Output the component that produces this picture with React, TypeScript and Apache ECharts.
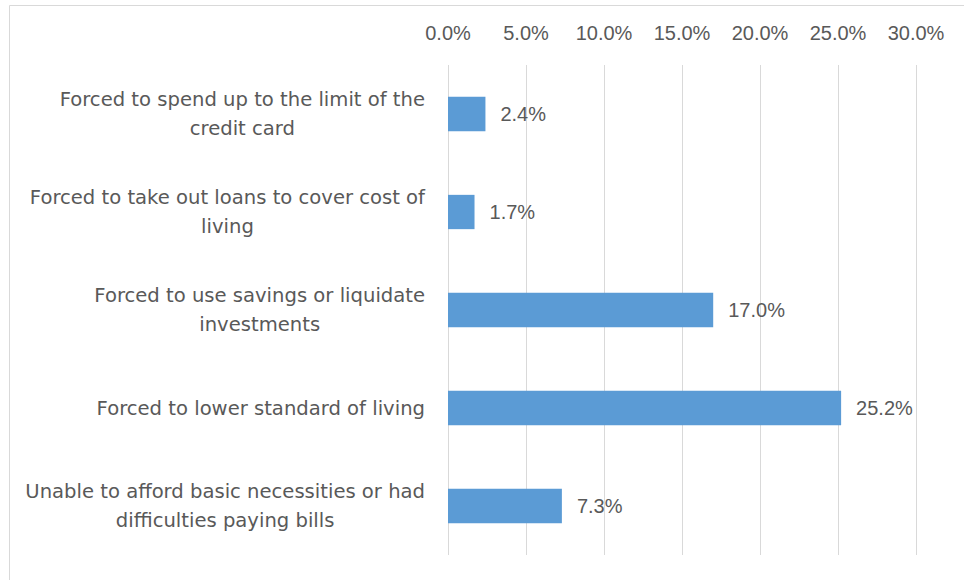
import React, { useEffect, useRef } from "react";
import * as echarts from "echarts";

const categories: string[] = [
  "Forced to spend up to the limit of the\ncredit card",
  "Forced to take out loans to cover cost of\nliving",
  "Forced to use savings or liquidate\ninvestments",
  "Forced to lower standard of living",
  "Unable to afford basic necessities or had\ndifficulties paying bills",
];
const values: number[] = [2.4, 1.7, 17.0, 25.2, 7.3];
const axisMin = 0;
const axisMax = 30;
const axisInterval = 5;

const FONT = "'Liberation Sans', Arial, sans-serif";
const CAT_FONT = "'DejaVu Sans', 'Liberation Sans', sans-serif";
const TEXT_COLOR = "#595959";

export default function App() {
  const ref = useRef<HTMLDivElement>(null);
  useEffect(() => {
    if (!ref.current) return;
    const chart = echarts.init(ref.current, undefined, { renderer: "svg" });
    chart.setOption({
      animation: false,
      backgroundColor: "#ffffff",
      textStyle: { fontFamily: FONT },
      graphic: [
        {
          type: "rect",
          shape: { x: 9.5, y: 5.5, width: 1000, height: 700 },
          style: { fill: "none", stroke: "#d9d9d9", lineWidth: 1 },
          silent: true,
        },
      ],
      grid: { left: 448, right: 48, top: 65, bottom: 25 },
      xAxis: {
        type: "value",
        position: "top",
        min: axisMin,
        max: axisMax,
        interval: axisInterval,
        axisLine: { show: false },
        axisTick: { show: false },
        splitLine: { lineStyle: { color: "#d9d9d9", width: 1 } },
        axisLabel: {
          margin: 22,
          color: TEXT_COLOR,
          fontSize: 20,
          fontFamily: FONT,
          formatter: (v: number) => v.toFixed(1) + "%",
        },
      },
      yAxis: {
        type: "category",
        inverse: true,
        data: categories,
        axisLine: { show: false },
        axisTick: { show: false },
        axisLabel: {
          margin: 23,
          align: "right",
          color: TEXT_COLOR,
          fontSize: 19.6,
          fontFamily: CAT_FONT,
          lineHeight: 29,
          formatter: (v: string) =>
            v
              .split("\n")
              .map((l) => "{c|" + l + "}")
              .join("\n"),
          rich: {
            c: {
              align: "center",
              color: TEXT_COLOR,
              fontSize: 19.6,
              fontFamily: CAT_FONT,
              lineHeight: 29,
            },
          },
        },
      },
      series: [
        {
          type: "bar",
          data: values,
          barWidth: "35%",
          itemStyle: { color: "#5b9bd5" },
          label: {
            show: true,
            position: "right",
            distance: 15,
            color: TEXT_COLOR,
            fontSize: 20,
            fontFamily: FONT,
            formatter: (p: any) => Number(p.value).toFixed(1) + "%",
          },
        },
      ],
    });
    return () => chart.dispose();
  }, []);
  return (
    <div
      ref={ref}
      style={{ position: "fixed", left: 0, top: 0, width: 964, height: 580 }}
    />
  );
}
